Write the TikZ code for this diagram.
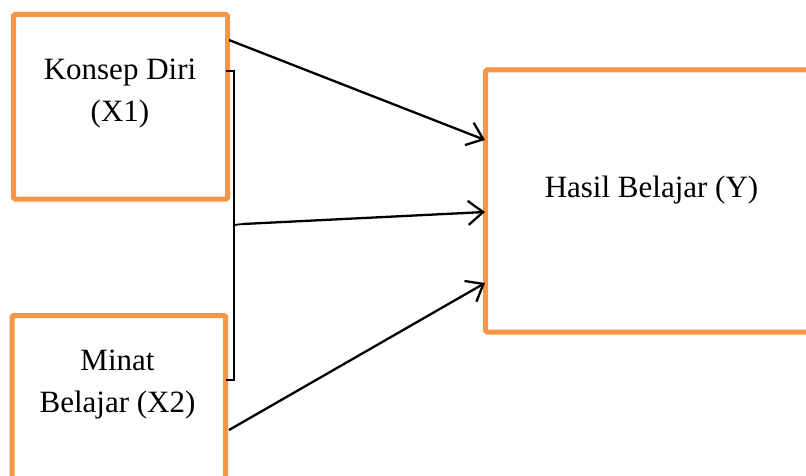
\documentclass[tikz,border=0pt]{standalone}
\usepackage{fontspec}
\setmainfont{Liberation Serif}
\usetikzlibrary{arrows.meta}
\definecolor{boxorange}{HTML}{F79646}
\tikzset{
  obox/.style={draw=boxorange, line width=5pt, rounded corners=1.5pt, minimum width=#1, inner sep=0pt, fill=none},
  lbl/.style={anchor=base, inner sep=0pt, font=\fontsize{31}{42}\selectfont},
  arr/.style={line width=2.3pt, -{Straight Barb[length=15pt,width=24pt,line width=2.3pt]}},
  brk/.style={line width=1.8pt}
}
\begin{document}
\begin{tikzpicture}[x=1pt,y=-1pt]
\useasboundingbox (0,0) rectangle (806,476);
\clip (0,0) rectangle (806,476);
\fill[white] (0,0) rectangle (806,476);
% boxes
\node[obox=214pt, minimum height=184.5pt] (x1) at (120.5,106.75) {};
\node[obox=213.5pt, minimum height=166pt] (x2) at (118.75,398.5) {};
\node[obox=330pt, minimum height=262pt] (y) at (650.5,201) {};
% texts
\node[lbl] (t1a) at (120,80) {Konsep Diri};
\node[lbl] (t1b) at (120,122) {(X1)};
\node[lbl] (t2a) at (117.5,370) {Minat};
\node[lbl] (t2b) at (117.5,412) {Belajar (X2)};
\node[lbl] (ty) at (651.5,197) {Hasil Belajar (Y)};
% connector points
\coordinate (a1s) at (229,40);
\coordinate (a1e) at (485,140);
\coordinate (a3s) at (229,430);
\coordinate (a3e) at (485,283);
\coordinate (a2e) at (485,212);
\coordinate (bt0) at (226,71);
\coordinate (bt1) at (234,71);
\coordinate (bb1) at (234,380);
\coordinate (bb0) at (226,380);
\coordinate (bm0) at (234,225);
\coordinate (bm1) at (243,224);
% bracket
\draw[brk] (bt0) -- (bt1) -- (bb1) -- (bb0);
\draw[brk] (bm0) -- (bm1);
% arrows
\draw[arr] (a1s) -- (a1e);
\draw[arr] (bm1) -- (a2e);
\draw[arr] (a3s) -- (a3e);
\end{tikzpicture}
\end{document}
